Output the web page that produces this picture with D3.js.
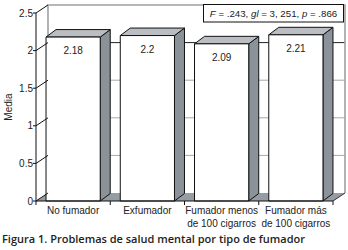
<!DOCTYPE html>
<html><head><meta charset="utf-8">
<script src="https://cdn.jsdelivr.net/npm/d3@7"></script>
<style>body{margin:0;background:#fff}svg{display:block}</style>
</head><body>
<script>
const categories = [["No fumador"],["Exfumador"],["Fumador menos","de 100 cigarros"],["Fumador más","de 100 cigarros"]];
const catKeys = ["No fumador","Exfumador","Fumador menos de 100 cigarros","Fumador más de 100 cigarros"];
const values = [2.18, 2.2, 2.09, 2.21];
const valueLabels = ["2.18","2.2","2.09","2.21"];
const yTicks = [0, 0.5, 1, 1.5, 2, 2.5];
const yTickLabels = ["0","0.5","1","1.5","2","2.5"];
const yTitle = "Media";
const statsText = [["F", true],[" = .243, ", false],["gl", true],[" = 3, 251, ", false],["p", true],[" = .866", false]];
const caption = "Figura 1. Problemas de salud mental por tipo de fumador";

const W = 348, H = 250;
const svg = d3.select("body").append("svg").attr("width", W).attr("height", H);
const font = "'Liberation Sans', Arial, sans-serif";

const y = d3.scaleLinear().domain([0, 2.5]).range([201, 13]);
const x = d3.scaleBand().domain(catKeys).range([36, 333]);
const xb = d3.scaleBand().domain(catKeys).range([36, 333]).paddingInner(0.27).paddingOuter(0.135);
const wdx = 12, wdy = -8;   // wall depth
const bdx = 10, bdy = -7.5; // bar depth
const x0 = 36, x1 = 333;

// back wall
svg.append("rect").attr("x", x0 + wdx).attr("y", y(2.5) + wdy)
  .attr("width", x1 - x0).attr("height", y(0) - y(2.5)).attr("fill", "#fff");
yTicks.slice(1, 5).forEach(t => {
  svg.append("line").attr("x1", x0 + wdx).attr("x2", x1 + wdx)
    .attr("y1", y(t) + wdy).attr("y2", y(t) + wdy)
    .attr("stroke", t === 2 ? "#222" : "#a8a8a8").attr("stroke-width", 1);
});
svg.append("path").attr("d", `M${x0+wdx},${y(0)+wdy}V${y(2.5)+wdy}H${x1+wdx}V${y(0)+wdy}`)
  .attr("fill", "none").attr("stroke", "#a0a0a0").attr("stroke-width", 1.6);

// floor
svg.append("path").attr("d", `M${x0},${y(0)}L${x0+wdx},${y(0)+wdy}L${x1+wdx},${y(0)+wdy}L${x1},${y(0)}Z`)
  .attr("fill", "#959ca3");
svg.append("line").attr("x1", x1).attr("y1", y(0)).attr("x2", x1 + wdx).attr("y2", y(0) + wdy).attr("stroke", "#333");

// bars
catKeys.forEach((c, i) => {
  const bx = xb(c), bw = xb.bandwidth(), by = y(values[i]), b0 = y(0);
  const g = svg.append("g").attr("stroke", "#111").attr("stroke-width", 1).attr("stroke-linejoin", "round");
  g.append("path").attr("d", `M${bx+bw},${by}L${bx+bw+bdx},${by+bdy}L${bx+bw+bdx},${b0+bdy}L${bx+bw},${b0}Z`)
    .attr("fill", "#8b9299");
  g.append("path").attr("d", `M${bx},${by}L${bx+bdx},${by+bdy}L${bx+bw+bdx},${by+bdy}L${bx+bw},${by}Z`)
    .attr("fill", "#babec2");
  g.append("rect").attr("x", bx).attr("y", by).attr("width", bw).attr("height", b0 - by).attr("fill", "#fff");
  svg.append("text").attr("x", bx + bw / 2).attr("y", by + 17).attr("text-anchor", "middle")
    .attr("font-family", font).attr("font-size", 10).attr("fill", "#222").text(valueLabels[i]);
});

// y axis
svg.append("line").attr("x1", x0).attr("x2", x0).attr("y1", y(2.5)).attr("y2", y(0)).attr("stroke", "#111");
yTicks.forEach((t, i) => {
  svg.append("line").attr("x1", x0 - 3).attr("x2", x0).attr("y1", y(t)).attr("y2", y(t)).attr("stroke", "#111");
  svg.append("line").attr("x1", x0).attr("x2", x0 + wdx).attr("y1", y(t)).attr("y2", y(t) + wdy).attr("stroke", "#111");
  svg.append("text").attr("x", 33).attr("y", y(t) + 3.5).attr("text-anchor", "end")
    .attr("font-family", font).attr("font-size", 10).attr("fill", "#222").text(yTickLabels[i]);
});
svg.append("text").attr("transform", `translate(12,${(y(0)+y(2.5))/2}) rotate(-90)`)
  .attr("text-anchor", "middle").attr("font-family", font).attr("font-size", 10).attr("fill", "#222").text(yTitle);

// x axis
svg.append("line").attr("x1", x0).attr("x2", x1).attr("y1", y(0)).attr("y2", y(0)).attr("stroke", "#111");
const bounds = catKeys.map(c => x(c)).concat([x1]);
bounds.forEach(b => svg.append("line").attr("x1", b).attr("x2", b).attr("y1", y(0)).attr("y2", y(0) + 4).attr("stroke", "#111"));
catKeys.forEach((c, i) => {
  const t = svg.append("text").attr("text-anchor", "middle").attr("font-family", font).attr("font-size", 10).attr("fill", "#222");
  categories[i].forEach((ln, j) => t.append("tspan").attr("x", x(c) + x.bandwidth() / 2).attr("y", 214 + j * 13).text(ln));
});

// stats box
svg.append("rect").attr("x", 203.5).attr("y", 4.5).attr("width", 140).attr("height", 17.5)
  .attr("fill", "#fff").attr("stroke", "#111");
const st = svg.append("text").attr("x", 273.5).attr("y", 17).attr("text-anchor", "middle")
  .attr("font-family", font).attr("font-size", 9.7).attr("fill", "#222");
statsText.forEach(([s, it]) => st.append("tspan").attr("font-style", it ? "italic" : "normal").text(s));

// caption
svg.append("text").attr("x", 2).attr("y", 243).attr("font-family", "'Open Sans', 'Noto Sans', sans-serif")
  .attr("font-weight", 600).attr("font-size", 11).attr("fill", "#222")
  .text(caption);
</script>
</body></html>
